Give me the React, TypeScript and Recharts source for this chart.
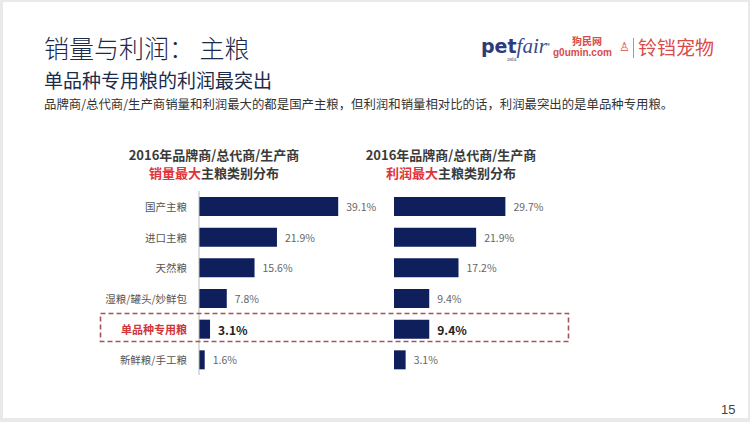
import React from 'react';
import { BarChart, Bar, XAxis, YAxis, LabelList } from 'recharts';

const categories = ['国产主粮', '进口主粮', '天然粮', '湿粮/罐头/妙鲜包', '单品种专用粮', '新鲜粮/手工粮'];
const salesShare = [39.1, 21.9, 15.6, 7.8, 3.1, 1.6];
const profitShare = [29.7, 21.9, 17.2, 9.4, 9.4, 3.1];
const highlightCategory = '单品种专用粮';

const salesData = categories.map((name, i) => ({ name, value: salesShare[i] }));
const profitData = categories.map((name, i) => ({ name, value: profitShare[i] }));

const FONT = '"Noto Sans CJK SC", "Noto Sans", sans-serif';
const NAVY = '#0f1f5c';
const RED = '#e0333a';

const CategoryTick = (props: any) => {
  const { x, y, payload } = props;
  const hi = payload.value === highlightCategory;
  return (
    <text
      x={x}
      y={y}
      textAnchor="end"
      dominantBaseline="central"
      fontFamily={FONT}
      fontSize={hi ? 11 : 10.5}
      fontWeight={hi ? 700 : 400}
      fill={hi ? '#d0353c' : '#555'}
    >
      {payload.value}
    </text>
  );
};

const ValueLabel = (props: any) => {
  const { x, y, width, height, value, index } = props;
  const hi = categories[index] === highlightCategory;
  return (
    <text
      x={x + width + 8}
      y={y + height / 2}
      dominantBaseline="central"
      fontFamily={FONT}
      fontSize={hi ? 12 : 10.5}
      fontWeight={hi ? 700 : 400}
      fill={hi ? '#222' : '#666'}
    >
      {`${Number(value).toFixed(1)}%`}
    </text>
  );
};

const ChartTitle = ({ center, keyword }: { center: number; keyword: string }) => (
  <div
    style={{
      position: 'absolute',
      left: center - 110,
      width: 220,
      top: 146,
      textAlign: 'center',
      fontFamily: FONT,
      fontWeight: 700,
      fontSize: 13,
      lineHeight: '18px',
      color: '#3a3a3a',
    }}
  >
    <div>2016年品牌商/总代商/生产商</div>
    <div>
      <span style={{ color: RED }}>{keyword}</span>主粮类别分布
    </div>
  </div>
);

export default function App() {
  return (
    <div
      style={{
        position: 'absolute',
        left: 0,
        top: 0,
        width: 750,
        height: 422,
        background: '#e9e9e9',
        overflow: 'hidden',
        fontFamily: FONT,
      }}
    >
      <div
        style={{
          position: 'absolute',
          left: 3,
          top: 2,
          width: 745,
          height: 416,
          background: '#ffffff',
        }}
      />
      <div
        style={{
          position: 'absolute',
          left: 44,
          top: 30,
          fontSize: 25,
          fontWeight: 300,
          color: '#1d2b4a',
          lineHeight: '34px',
          whiteSpace: 'nowrap',
        }}
      >
        销量与利润： 主粮
      </div>
      <div
        style={{
          position: 'absolute',
          left: 44,
          top: 67,
          fontSize: 19,
          color: '#1d2b4a',
          lineHeight: '26px',
          whiteSpace: 'nowrap',
        }}
      >
        单品种专用粮的利润最突出
      </div>
      <div
        style={{
          position: 'absolute',
          left: 44,
          top: 95,
          fontSize: 12.4,
          color: '#333',
          lineHeight: '18px',
          whiteSpace: 'nowrap',
        }}
      >
        品牌商/总代商/生产商销量和利润最大的都是国产主粮，但利润和销量相对比的话，利润最突出的是单品种专用粮。
      </div>

      {/* logos */}
      <div style={{ position: 'absolute', left: 481, top: 34, whiteSpace: 'nowrap', color: '#2b3c7c', lineHeight: '24px' }}>
        <span style={{ fontFamily: 'DejaVu Sans', fontWeight: 700, fontSize: 19 }}>pet</span>
        <span style={{ fontFamily: 'Liberation Serif', fontStyle: 'italic', fontSize: 21, color: '#3a4a86' }}>fair</span>
        <span style={{ fontSize: 6, verticalAlign: 'top' }}>®</span>
      </div>
      <div style={{ position: 'absolute', left: 507, top: 56, fontFamily: 'Liberation Serif', fontSize: 6, color: '#3a4a86', lineHeight: '7px' }}>asia</div>
      <div style={{ position: 'absolute', left: 572, top: 35, fontSize: 10, fontWeight: 700, color: '#d94a4a', whiteSpace: 'nowrap', lineHeight: '12px' }}>狗民网</div>
      <div style={{ position: 'absolute', left: 553, top: 47, fontSize: 10, fontFamily: 'Liberation Sans', fontWeight: 700, color: '#d94a4a', whiteSpace: 'nowrap', lineHeight: '12px' }}>g0umin.com</div>
      <div style={{ position: 'absolute', left: 619, top: 39, fontSize: 12, color: '#d94a4a', lineHeight: '14px' }}>♙</div>
      <div style={{ position: 'absolute', left: 633, top: 38, width: 1, height: 20, background: '#d98080' }} />
      <div style={{ position: 'absolute', left: 638, top: 34, fontSize: 19, color: '#d94a4a', whiteSpace: 'nowrap', lineHeight: '26px' }}>铃铛宠物</div>

      <ChartTitle center={214} keyword="销量最大" />
      <ChartTitle center={451} keyword="利润最大" />

      <div style={{ position: 'absolute', left: 100, top: 191 }}>
        <BarChart
          width={322}
          height={184}
          data={salesData}
          layout="vertical"
          margin={{ top: 0, right: 45, bottom: 0, left: 0 }}
          barCategoryGap={0}
        >
          <XAxis type="number" domain={[0, 50]} hide />
          <YAxis
            type="category"
            dataKey="name"
            width={99}
            tickLine={false}
            tickSize={0}
            tickMargin={12}
            axisLine={{ stroke: '#bbbbbb' }}
            tick={<CategoryTick />}
            interval={0}
          />
          <Bar dataKey="value" fill={NAVY} barSize={19} isAnimationActive={false}>
            <LabelList dataKey="value" content={<ValueLabel />} />
          </Bar>
        </BarChart>
      </div>

      <div style={{ position: 'absolute', left: 394, top: 191 }}>
        <BarChart
          width={200}
          height={184}
          data={profitData}
          layout="vertical"
          margin={{ top: 0, right: 50, bottom: 0, left: 0 }}
          barCategoryGap={0}
        >
          <XAxis type="number" domain={[0, 40]} hide />
          <YAxis type="category" dataKey="name" hide />
          <Bar dataKey="value" fill={NAVY} barSize={19} isAnimationActive={false}>
            <LabelList dataKey="value" content={<ValueLabel />} />
          </Bar>
        </BarChart>
      </div>

      <svg style={{ position: 'absolute', left: 0, top: 0 }} width={750} height={422} pointerEvents="none">
        <rect x={100.5} y={313.5} width={468} height={28} fill="none" stroke="#a5545a" strokeWidth={1.6} strokeDasharray="5 3" />
      </svg>

      <div style={{ position: 'absolute', left: 721, top: 402, fontSize: 13, color: '#444', fontFamily: 'Liberation Sans' }}>15</div>
    </div>
  );
}
